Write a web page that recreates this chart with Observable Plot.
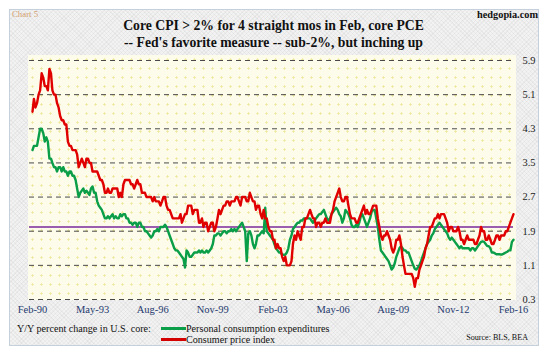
<!DOCTYPE html>
<html><head><meta charset="utf-8">
<script src="https://cdn.jsdelivr.net/npm/d3@7"></script>
<script src="https://cdn.jsdelivr.net/npm/@observablehq/plot@0.6"></script>
<style>
body{margin:0;background:#fff;}
#wrap{position:relative;width:548px;height:354px;overflow:hidden;font-family:"Liberation Serif","Times New Roman",serif;color:#111;}
#panel{position:absolute;left:9px;top:9px;width:528px;height:335px;border:1px solid #c6d0dd;background-color:#f2f2f2;
 background-image:repeating-linear-gradient(45deg,rgba(0,0,0,0.035) 0 1px,transparent 1px 3px),repeating-linear-gradient(-45deg,rgba(0,0,0,0.035) 0 1px,transparent 1px 3px);}
#plotbg{position:absolute;left:28px;top:55px;width:488px;height:245px;background-color:#fdfcea;
 background-image:radial-gradient(circle,#eee69c 0.9px,transparent 1.3px);background-size:9px 9px;}
#chart{position:absolute;left:0;top:0;}
.t{position:absolute;white-space:nowrap;line-height:1;}
.sw{position:absolute;height:3px;width:25px;}
</style></head>
<body>
<div id="wrap">
  <div id="panel"></div>
  <div id="plotbg"></div>
  <div id="chart"></div>
  <div class="t" style="left:12px;top:9.6px;font-size:8.8px;color:#d3a06e;">Chart 5</div>
  <div class="t" style="right:10px;top:10px;font-size:10.3px;font-weight:bold;">hedgopia.com</div>
  <div class="t" style="left:0;width:547px;top:17.4px;text-align:center;font-size:13.7px;font-weight:bold;line-height:17px;white-space:normal;">Core CPI &gt; 2% for 4 straight mos in Feb, core PCE<br>-- Fed's favorite measure -- sub-2%, but inching up</div>
  <div class="t" style="left:17px;top:323.5px;font-size:10.1px;">Y/Y percent change in U.S. core:</div>
  <div class="sw" style="left:161px;top:327px;background:#0a9e48;"></div>
  <div class="sw" style="left:161px;top:338px;background:#d40000;"></div>
  <div class="t" id="lg1" style="left:186px;top:323.5px;font-size:10.1px;"></div>
  <div class="t" id="lg2" style="left:186px;top:335px;font-size:10.1px;"></div>
  <div class="t" style="right:20px;top:334px;font-size:8.1px;">Source: BLS, BEA</div>
</div>
<script>
// Series names
const seriesNames = ["Personal consumption expenditures", "Consumer price index"];
const startMonth = "1990-02-01";

// Core CPI, y/y %, monthly Feb-1990 .. Feb-2016
const cpi = [
 4.7,5.0,4.8,4.9,5.1,5.2,5.6,5.5,5.3,5.3,5.2,
 5.7,5.6,5.2,5.1,5.1,4.9,4.8,4.6,4.5,4.5,4.4,4.4,
 4.0,3.9,3.9,3.8,3.8,3.8,3.7,3.4,3.5,3.6,3.5,3.4,
 3.6,3.6,3.5,3.5,3.3,3.3,3.3,3.3,3.2,3.1,3.1,3.0,
 2.8,2.8,2.9,2.8,2.8,2.9,2.9,2.9,2.9,2.7,2.8,2.7,
 3.0,3.1,3.1,3.1,3.1,3.0,3.0,2.9,3.0,3.1,3.0,3.0,
 2.8,2.8,2.8,2.7,2.7,2.7,2.7,2.6,2.7,2.6,2.6,2.6,
 2.5,2.6,2.7,2.7,2.5,2.4,2.4,2.3,2.2,2.2,2.2,2.2,
 2.2,2.3,2.1,2.2,2.3,2.3,2.5,2.5,2.5,2.3,2.4,2.4,
 2.4,2.1,2.1,2.2,2.0,2.1,2.1,1.9,2.0,2.1,2.1,1.9,
 2.0,2.2,2.4,2.3,2.4,2.5,2.5,2.6,2.6,2.5,2.6,2.6,
 2.6,2.7,2.7,2.6,2.5,2.7,2.7,2.7,2.6,2.6,2.8,2.7,
 2.6,2.6,2.4,2.5,2.5,2.3,2.2,2.4,2.2,2.2,2.0,1.9,
 1.9,1.7,1.7,1.5,1.6,1.5,1.5,1.3,1.2,1.3,1.1,1.1,
 1.1,1.2,1.6,1.8,1.7,1.9,1.8,1.7,2.0,2.0,2.2,2.2,
 2.3,2.4,2.3,2.2,2.2,2.0,2.1,2.1,2.0,2.1,2.1,2.2,
 2.1,2.1,2.1,2.3,2.4,2.6,2.7,2.8,2.9,2.7,2.6,2.6,
 2.7,2.7,2.5,2.3,2.2,2.2,2.2,2.1,2.1,2.2,2.3,2.4,
 2.5,2.3,2.4,2.3,2.3,2.4,2.5,2.5,2.5,2.2,2.0,1.8,
 1.7,1.8,1.8,1.9,1.8,1.7,1.5,1.4,1.5,1.7,1.7,1.8,
 1.6,1.3,1.1,0.9,0.9,0.9,0.9,0.9,0.8,0.6,0.8,0.8,
 1.0,1.1,1.2,1.3,1.5,1.6,1.8,2.0,2.0,2.1,2.2,2.2,
 2.3,2.2,2.3,2.3,2.3,2.2,2.1,1.9,2.0,2.0,1.9,1.9,
 1.9,2.0,1.9,1.7,1.7,1.6,1.7,1.8,1.7,1.7,1.7,1.7,
 1.6,1.6,1.7,1.8,2.0,1.9,1.9,1.7,1.7,1.8,1.7,1.6,
 1.6,1.7,1.8,1.8,1.7,1.8,1.8,1.8,1.9,1.9,2.0,2.1,
 2.2,2.3
];

// Core PCE, y/y %, monthly Feb-1990 .. Feb-2016
const pce = [
 3.8,3.9,3.9,3.9,4.1,4.3,4.3,4.2,4.0,4.1,4.0,
 3.6,3.6,3.5,3.4,3.4,3.3,3.4,3.4,3.3,3.4,3.3,3.3,
 3.2,3.3,3.3,3.2,3.2,3.1,2.9,2.7,2.8,2.85,2.9,2.8,
 2.85,2.8,2.75,2.9,2.95,2.8,2.8,2.6,2.5,2.45,2.4,2.3,
 2.2,2.2,2.25,2.2,2.25,2.3,2.2,2.25,2.2,2.2,2.3,2.25,
 2.3,2.3,2.2,2.2,2.1,2.1,2.05,2.1,2.1,2.0,2.1,2.1,
 2.0,2.0,1.9,1.9,1.85,1.8,1.75,1.8,1.9,1.9,1.95,1.9,
 2.0,2.0,2.0,2.05,2.0,1.9,1.8,1.7,1.6,1.5,1.45,1.45,
 1.4,1.35,1.3,1.25,1.05,1.45,1.4,1.3,1.3,1.35,1.4,1.4,
 1.4,1.45,1.4,1.45,1.4,1.4,1.45,1.4,1.45,1.5,1.6,1.8,
 1.8,1.85,1.85,1.8,1.85,1.9,1.9,1.85,1.9,1.9,1.95,1.9,
 1.95,1.9,1.95,2.0,2.05,2.1,2.0,1.9,1.2,1.85,1.9,1.8,
 1.6,1.5,1.6,1.8,1.8,1.85,1.9,1.85,2.45,1.9,1.85,1.8,
 1.75,1.7,1.6,1.5,1.45,1.4,1.4,1.35,1.35,1.35,1.4,1.5,
 1.7,1.8,1.95,2.0,2.05,2.1,2.1,2.15,2.15,2.2,2.2,2.2,
 2.2,2.2,2.15,2.1,2.15,2.2,2.25,2.3,2.3,2.35,2.4,2.3,
 2.2,2.15,2.2,2.3,2.35,2.4,2.45,2.4,2.3,2.25,2.1,2.2,
 2.4,2.35,2.3,2.2,2.05,2.0,2.0,2.05,2.0,2.1,2.25,2.3,
 2.2,2.1,2.0,2.1,2.2,2.35,2.4,2.4,2.2,2.0,1.7,1.45,
 1.4,1.35,1.3,1.25,1.2,1.1,1.0,1.05,1.15,1.3,1.4,1.5,
 1.55,1.5,1.45,1.45,1.4,1.4,1.3,1.2,1.1,1.02,1.0,1.05,
 1.1,1.2,1.3,1.4,1.5,1.6,1.65,1.7,1.8,1.85,1.95,2.0,
 2.05,2.1,2.05,2.0,1.95,1.9,1.85,1.75,1.7,1.75,1.7,1.65,
 1.6,1.55,1.5,1.55,1.5,1.5,1.5,1.5,1.5,1.45,1.5,1.5,
 1.45,1.5,1.55,1.6,1.65,1.66,1.65,1.6,1.55,1.55,1.5,1.4,
 1.4,1.38,1.36,1.36,1.36,1.35,1.36,1.38,1.4,1.42,1.45,1.45,
 1.65,1.7
];

const yTicks = [0.3, 1.1, 1.9, 2.7, 3.5, 4.3, 5.1, 5.9];
const yTickLabels = ["0.3","1.1","1.9","2.7","3.5","4.3","5.1","5.9"];
const xTickDates = ["1990-02-01","1993-05-01","1996-08-01","1999-11-01","2003-02-01","2006-05-01","2009-08-01","2012-11-01","2016-02-01"];
const xTickLabels = ["Feb-90","May-93","Aug-96","Nov-99","Feb-03","May-06","Aug-09","Nov-12","Feb-16"];
const fedTarget = [2.0];

const start = new Date(startMonth + "T00:00:00Z");
const dateAt = i => d3.utcMonth.offset(start, i);
const cpiData = cpi.map((v, i) => ({date: dateAt(i), v}));
const pceData = pce.map((v, i) => ({date: dateAt(i), v}));
const xTicks = xTickDates.map(s => new Date(s + "T00:00:00Z"));

document.getElementById("lg1").textContent = seriesNames[0];
document.getElementById("lg2").textContent = seriesNames[1];

const chart = Plot.plot({
  width: 548, height: 354,
  marginLeft: 32, marginRight: 35, marginTop: 60, marginBottom: 55,
  style: {background: "transparent", fontFamily: "'Liberation Serif', 'Times New Roman', serif", overflow: "visible"},
  x: {type: "utc", domain: [xTicks[0], xTicks[xTicks.length - 1]]},
  y: {domain: [0.3, 5.9]},
  marks: [
    Plot.ruleY(yTicks, {stroke: "#4a4a4a", strokeWidth: 1, strokeDasharray: "5,4", insetLeft: -3, insetRight: -2}),
    Plot.ruleY(fedTarget, {stroke: "#7a2a9a", strokeWidth: 1.6, insetLeft: -3}),
    Plot.lineY(pceData, {x: "date", y: "v", stroke: "#0a9e48", strokeWidth: 2.4, strokeLinejoin: "round"}),
    Plot.lineY(cpiData, {x: "date", y: "v", stroke: "#e00000", strokeWidth: 2.4, strokeLinejoin: "round"}),
    Plot.axisY({anchor: "right", ticks: yTicks, tickSize: 0, tickPadding: 9, label: null,
      tickFormat: d => yTickLabels[yTicks.indexOf(d)], fontSize: 10.4, fill: "#222"}),
    Plot.axisX({ticks: xTicks, tickSize: 0, tickPadding: 6, label: null,
      tickFormat: d => xTickLabels[xTicks.findIndex(t => +t === +d)], fontSize: 10.5, fill: "#1f3a6e"})
  ]
});
document.getElementById("chart").appendChild(chart);
</script>
</body></html>
